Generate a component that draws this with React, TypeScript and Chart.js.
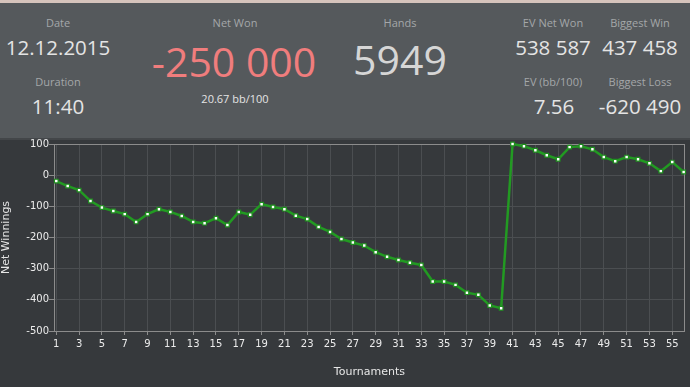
import React, { useEffect, useRef } from "react";
import { Chart, registerables } from "chart.js";

Chart.register(...registerables);

const tournaments = [
  1, 2, 3, 4, 5, 6, 7, 8, 9, 10, 11, 12, 13, 14, 15, 16, 17, 18, 19, 20,
  21, 22, 23, 24, 25, 26, 27, 28, 29, 30, 31, 32, 33, 34, 35, 36, 37, 38, 39, 40,
  41, 42, 43, 44, 45, 46, 47, 48, 49, 50, 51, 52, 53, 54, 55, 56,
];

const netWinnings = [
  -19, -35, -48, -83, -104, -115, -125, -150, -125, -109,
  -118, -131, -150, -154, -138, -160, -118, -127, -93, -102,
  -109, -130, -141, -166, -182, -205, -216, -226, -247, -262,
  -272, -281, -288, -341, -341, -352, -377, -384, -418, -427,
  100, 93, 80, 64, 51, 90, 93, 83, 58, 45,
  58, 51, 38, 13, 42, 10,
];

const xTickValues = [1, 3, 5, 7, 9, 11, 13, 15, 17, 19, 21, 23, 25, 27, 29, 31, 33, 35, 37, 39, 41, 43, 45, 47, 49, 51, 53, 55];

const statLabels = {
  date: "Date",
  duration: "Duration",
  netWon: "Net Won",
  hands: "Hands",
  evNetWon: "EV Net Won",
  biggestWin: "Biggest Win",
  evBb: "EV (bb/100)",
  biggestLoss: "Biggest Loss",
};

const statValues = {
  date: "12.12.2015",
  duration: "11:40",
  netWon: "-250 000",
  bbPer100: "20.67 bb/100",
  hands: "5949",
  evNetWon: "538 587",
  biggestWin: "437 458",
  evBb: "7.56",
  biggestLoss: "-620 490",
};

const FONT = "'Open Sans', 'Noto Sans', sans-serif";

function Txt(props: { x: number; y: number; size: number; color: string; children: React.ReactNode }) {
  return (
    <div
      style={{
        position: "absolute",
        left: props.x,
        top: props.y,
        transform: "translate(-50%, -50%)",
        fontFamily: FONT,
        fontSize: props.size,
        lineHeight: 1,
        color: props.color,
        whiteSpace: "nowrap",
      }}
    >
      {props.children}
    </div>
  );
}

const LBL = "#a4a7a9";
const VAL = "#e4e4e4";

export default function App() {
  const canvasRef = useRef<HTMLCanvasElement | null>(null);

  useEffect(() => {
    const canvas = canvasRef.current;
    if (!canvas) return;

    const borderPlugin = {
      id: "plotBorder",
      beforeDatasetsDraw(chart: any) {
        const { ctx, chartArea } = chart;
        ctx.save();
        ctx.strokeStyle = "#8c8c8c";
        ctx.lineWidth = 1;
        ctx.strokeRect(
          Math.round(chartArea.left) + 0.5,
          Math.round(chartArea.top) + 0.5,
          Math.round(chartArea.right - chartArea.left) - 1,
          Math.round(chartArea.bottom - chartArea.top)
        );
        ctx.restore();
      },
    };

    const chart = new Chart(canvas, {
      type: "line",
      data: {
        datasets: [
          {
            data: tournaments.map((t, i) => ({ x: t, y: netWinnings[i] })),
            borderColor: "#229a22",
            borderWidth: 2.5,
            pointStyle: "rect",
            pointRadius: 2.6,
            pointBorderWidth: 1.2,
            pointBackgroundColor: "#ffffff",
            pointBorderColor: "#1e8f1e",
            tension: 0,
            clip: false as any,
          },
        ],
      },
      options: {
        animation: false,
        responsive: false,
        maintainAspectRatio: false,
        layout: { padding: { top: 6, right: 1, left: 0, bottom: 0 } },
        plugins: { legend: { display: false }, tooltip: { enabled: false } },
        scales: {
          x: {
            type: "linear",
            min: 0.8,
            max: 56.1,
            afterBuildTicks: (s: any) => {
              s.ticks = xTickValues.map((v) => ({ value: v }));
            },
            afterFit: (s: any) => {
              s.height = 56;
            },
            ticks: {
              autoSkip: false,
              maxRotation: 0,
              color: "#ececec",
              padding: 3,
              font: { family: "'DejaVu Sans', sans-serif", size: 10 },
            },
            grid: { color: "#4b4e51", tickColor: "#8c8c8c", tickLength: 4 },
            border: { color: "#8c8c8c", width: 1 },
            title: {
              display: true,
              text: "Tournaments",
              color: "#e6e6e6",
              font: { family: "'DejaVu Sans', sans-serif", size: 11 },
              padding: { top: 0, bottom: 8 },
            },
          },
          y: {
            min: -500,
            max: 100,
            afterFit: (s: any) => {
              s.width = 54;
            },
            ticks: {
              stepSize: 100,
              color: "#ececec",
              padding: 0,
              font: { family: "'DejaVu Sans', sans-serif", size: 10 },
            },
            grid: { color: "#4b4e51", tickColor: "#8c8c8c", tickLength: 5 },
            border: { color: "#8c8c8c", width: 1 },
            title: {
              display: true,
              text: "Net Winnings",
              color: "#e6e6e6",
              font: { family: "'DejaVu Sans', sans-serif", size: 11 },
              padding: { top: 0, bottom: 0 },
            },
          },
        },
      },
      plugins: [borderPlugin],
    } as any);

    return () => chart.destroy();
  }, []);

  return (
    <div
      style={{
        position: "fixed",
        left: 0,
        top: 0,
        width: 690,
        height: 387,
        background: "#36393c",
        overflow: "hidden",
      }}
    >
      <div style={{ position: "absolute", left: 0, top: 0, width: 690, height: 3, background: "#d6c4bc" }} />
      <div style={{ position: "absolute", left: 0, top: 3, width: 690, height: 135, background: "#55595c" }} />
      <div style={{ position: "absolute", left: 0, top: 138, width: 690, height: 2, background: "#434649" }} />

      <Txt x={58} y={22} size={11} color={LBL}>{statLabels.date}</Txt>
      <Txt x={58} y={47} size={20.5} color={VAL}>{statValues.date}</Txt>
      <Txt x={58} y={81} size={11} color={LBL}>{statLabels.duration}</Txt>
      <Txt x={58} y={106} size={20.5} color={VAL}>{statValues.duration}</Txt>

      <Txt x={235} y={22} size={11} color={LBL}>{statLabels.netWon}</Txt>
      <Txt x={234} y={61} size={41} color="#f07d7d">{statValues.netWon}</Txt>
      <Txt x={235} y={98} size={11} color={VAL}>{statValues.bbPer100}</Txt>

      <Txt x={400} y={22} size={11} color={LBL}>{statLabels.hands}</Txt>
      <Txt x={400} y={59} size={41} color="#d6d6d6">{statValues.hands}</Txt>

      <Txt x={553} y={22} size={11} color={LBL}>{statLabels.evNetWon}</Txt>
      <Txt x={553} y={47} size={20.5} color={VAL}>{statValues.evNetWon}</Txt>
      <Txt x={640} y={22} size={11} color={LBL}>{statLabels.biggestWin}</Txt>
      <Txt x={640} y={47} size={20.5} color={VAL}>{statValues.biggestWin}</Txt>
      <Txt x={553} y={81} size={11} color={LBL}>{statLabels.evBb}</Txt>
      <Txt x={554} y={106} size={20.5} color={VAL}>{statValues.evBb}</Txt>
      <Txt x={640} y={81} size={11} color={LBL}>{statLabels.biggestLoss}</Txt>
      <Txt x={640} y={106} size={20.5} color={VAL}>{statValues.biggestLoss}</Txt>

      <canvas
        ref={canvasRef}
        width={690}
        height={249}
        style={{ position: "absolute", left: 0, top: 138, width: 690, height: 249, display: "block" }}
      />
    </div>
  );
}
